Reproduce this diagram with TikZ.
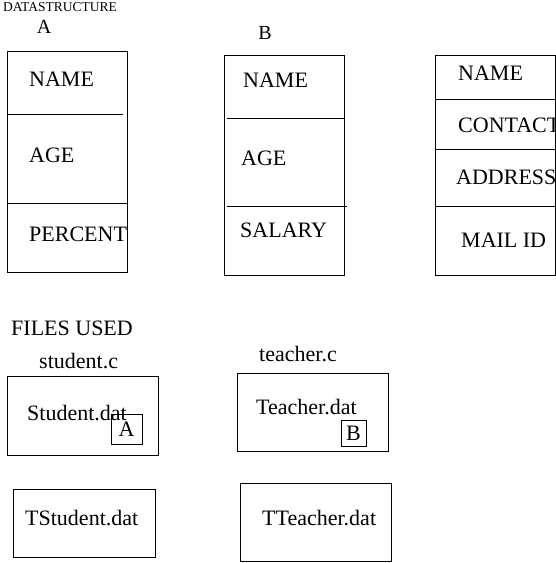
\documentclass[tikz,border=0pt]{standalone}
\usepackage{fontspec}
\setmainfont{Liberation Serif}
\begin{document}
\begin{tikzpicture}[x=1pt,y=-1pt,
  box/.style={draw,line width=1pt,inner sep=0pt,minimum width=#1},
  lbl/.style={inner sep=0pt,anchor=west,font=\fontsize{22}{22}\selectfont},
  hdr/.style={inner sep=0pt,font=\fontsize{20}{20}\selectfont},
  sep/.style={line width=1pt}]
\useasboundingbox (0,0) rectangle (556,563);
\clip (0,0) rectangle (556,563);
% title
\node[inner sep=0pt,anchor=west,font=\fontsize{13.5}{13.5}\selectfont] (title) at (3,7) {DATASTRUCTURE};
\node[hdr] (hA) at (44,26.5) {A};
\node[hdr] (hB) at (265,33) {B};
% structure A
\node[box=120pt,minimum height=221pt] (sA) at (67,161.5) {};
\coordinate (a1l) at (7,114); \coordinate (a1r) at (123,114);
\coordinate (a2l) at (7,203); \coordinate (a2r) at (127,203);
\draw[sep] (a1l) -- (a1r);
\draw[sep] (a2l) -- (a2r);
\node[lbl] (aName) at (29,79.5) {NAME};
\node[lbl] (aAge) at (29,155) {AGE};
\node[lbl] (aPct) at (29,234.5) {PERCENT};
% structure B
\node[box=120pt,minimum height=220pt] (sB) at (284,165) {};
\coordinate (b1l) at (227,118); \coordinate (b1r) at (344,118);
\coordinate (b2l) at (227,206); \coordinate (b2r) at (347,206);
\draw[sep] (b1l) -- (b1r);
\draw[sep] (b2l) -- (b2r);
\node[lbl] (bName) at (243,80.5) {NAME};
\node[lbl] (bAge) at (241,158.5) {AGE};
\node[lbl] (bSal) at (240,230.5) {SALARY};
% structure C
\node[box=120pt,minimum height=220pt] (sC) at (495,165) {};
\coordinate (c1l) at (435,99); \coordinate (c1r) at (556,99);
\coordinate (c2l) at (435,149); \coordinate (c2r) at (556,149);
\coordinate (c3l) at (435,206); \coordinate (c3r) at (556,206);
\draw[sep] (c1l) -- (c1r);
\draw[sep] (c2l) -- (c2r);
\draw[sep] (c3l) -- (c3r);
\node[lbl] (cName) at (458,73) {NAME};
\node[lbl] (cCon) at (458,125) {CONTACT};
\node[lbl] (cAdd) at (456,177) {ADDRESS};
\node[lbl] (cMail) at (461,240) {MAIL ID};
% files used
\node[lbl] (files) at (11,328) {FILES USED};
\node[lbl] (stc) at (39,361) {student.c};
\node[lbl] (tec) at (259,354) {teacher.c};
\node[box=151pt,minimum height=79pt] (fS) at (82.5,415.5) {};
\node[lbl] (fSt) at (27,413) {Student.dat};
\node[box=31pt,minimum height=30pt,font=\fontsize{22}{22}\selectfont] (kA) at (126.5,429) {A};
\node[box=151pt,minimum height=78pt] (fT) at (312.5,412) {};
\node[lbl] (fTt) at (256,407) {Teacher.dat};
\node[box=25pt,minimum height=26pt,font=\fontsize{22}{22}\selectfont] (kB) at (353.5,433) {B};
\node[box=142pt,minimum height=68pt] (fTS) at (84,523) {};
\node[lbl] (fTSt) at (25,518) {TStudent.dat};
\node[box=151pt,minimum height=78pt] (fTT) at (315.5,522) {};
\node[lbl] (fTTt) at (262,518) {TTeacher.dat};
\end{tikzpicture}
\end{document}
